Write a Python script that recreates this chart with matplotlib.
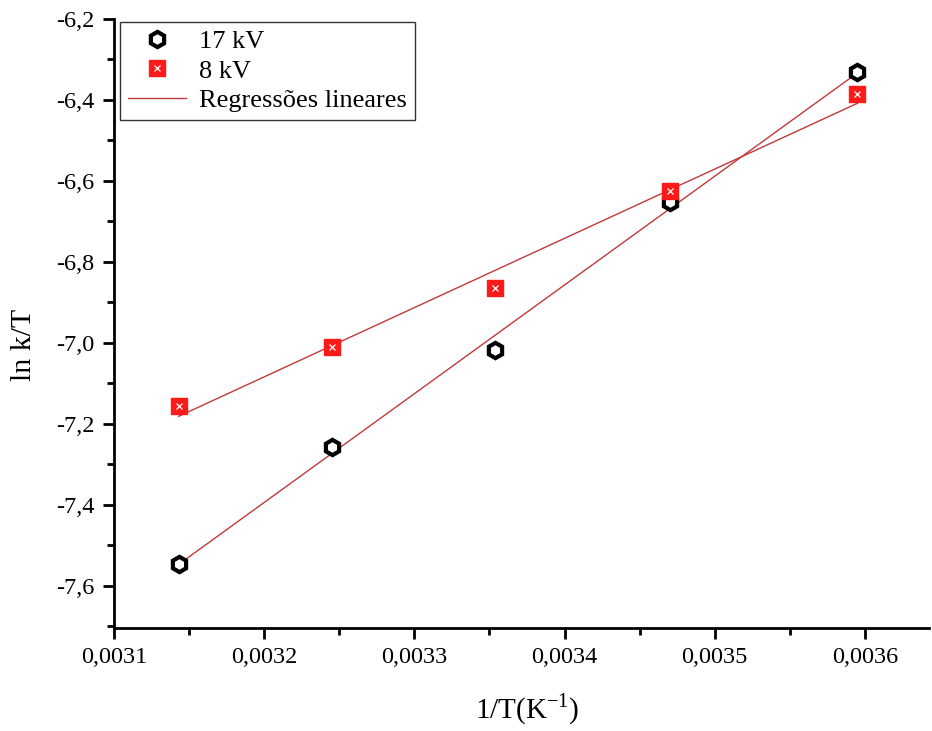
import numpy as np
import matplotlib
matplotlib.use('Agg')
import matplotlib.pyplot as plt
from matplotlib.ticker import FuncFormatter, MultipleLocator

plt.rcParams['font.family'] = ['Liberation Serif', 'DejaVu Serif']
plt.rcParams['mathtext.fontset'] = 'custom'
plt.rcParams['mathtext.rm'] = 'Liberation Serif'

# 1/T values (K^-1)
inv_T = [0.003143, 0.003245, 0.003354, 0.003470, 0.003595]
# ln k/T
ln_17kv = [-7.545, -7.256, -7.018, -6.653, -6.331]
ln_8kv = [-7.155, -7.010, -6.864, -6.625, -6.385]

x = np.array(inv_T)

fig = plt.figure(figsize=(9.32, 7.31), dpi=100)
ax = fig.add_axes([0.1223, 0.141, 0.875, 0.833])

line_col = '#c0393b'
for ys in (ln_17kv, ln_8kv):
    p = np.polyfit(x, ys, 1)
    ax.plot(x, np.polyval(p, x), color=line_col, lw=1, zorder=1)

h17, = ax.plot(x, ln_17kv, ls='none', marker='h', ms=11, mfc='white',
               mec='black', mew=3, zorder=3)
h8a, = ax.plot(x, ln_8kv, ls='none', marker='s', ms=11, mfc='#ff1a1a',
               mec='#ff1a1a', zorder=3)
h8b, = ax.plot(x, ln_8kv, ls='none', marker='x', ms=5, mec='white',
               mew=0.9, zorder=4)
hl, = ax.plot([], [], color=line_col, lw=1)

leg = ax.legend([h17, (h8a, h8b), hl], ['17 kV', '8 kV', 'Regressões lineares'],
                loc='upper left', bbox_to_anchor=(0.001, 1.004), fontsize=19,
                frameon=True, fancybox=False, handlelength=2.2,
                borderaxespad=0.2, borderpad=0.3, labelspacing=0.22,
                handletextpad=0.5)
leg.get_frame().set_edgecolor('black')
leg.get_frame().set_linewidth(1)

ax.set_xlim(0.0031, 0.003643)
ax.set_ylim(-7.704, -6.2)
ax.xaxis.set_major_locator(MultipleLocator(0.0001))
ax.xaxis.set_minor_locator(MultipleLocator(0.00005))
ax.yaxis.set_major_locator(MultipleLocator(0.2))
ax.yaxis.set_minor_locator(MultipleLocator(0.1))
ax.xaxis.set_major_formatter(FuncFormatter(lambda v, p: ('%.4f' % v).replace('.', ',')))
ax.yaxis.set_major_formatter(FuncFormatter(lambda v, p: ('%.1f' % v).replace('.', ',')))

for s in ('top', 'right'):
    ax.spines[s].set_visible(False)
for s in ('left', 'bottom'):
    ax.spines[s].set_linewidth(2)

ax.tick_params(which='major', direction='out', length=8, width=2, labelsize=17.5, pad=6)
ax.tick_params(which='minor', direction='out', length=5, width=2)

ax.set_xlabel('1/T(K$^{\\mathregular{-1}}$)', fontsize=21)
ax.set_ylabel('ln k/T', fontsize=21.5)
ax.xaxis.set_label_coords(0.507, -0.105)
ax.yaxis.set_label_coords(-0.094, 0.465)

fig.savefig('out.png', dpi=100)
